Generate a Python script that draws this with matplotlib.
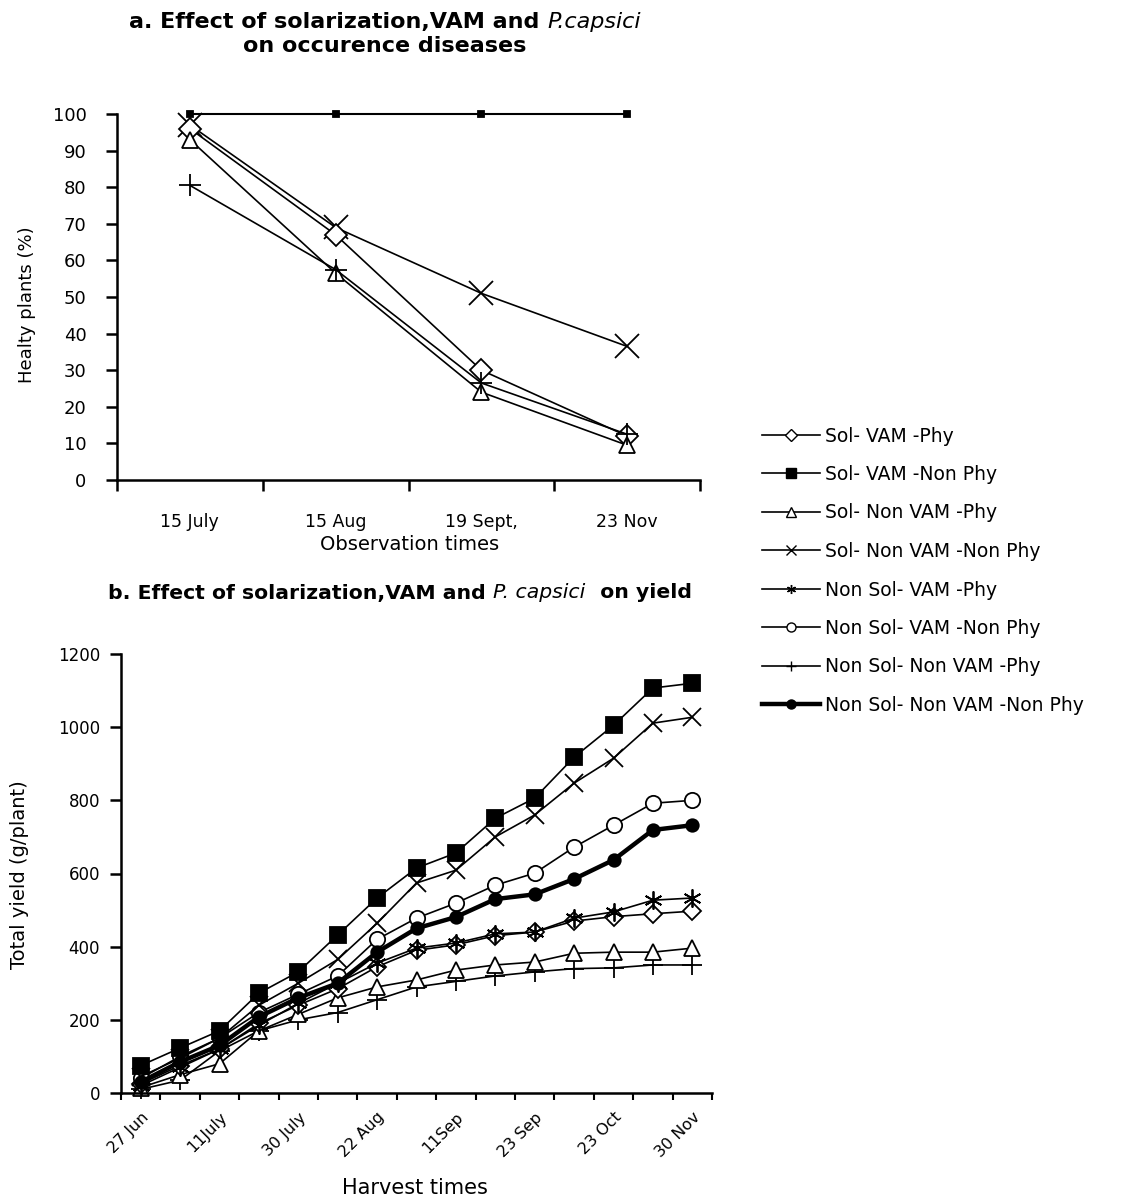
import matplotlib
matplotlib.use("Agg")
import matplotlib.pyplot as plt
from matplotlib.lines import Line2D

# ---------------- data ----------------
series_names = ["Sol- VAM -Phy", "Sol- VAM -Non Phy", "Sol- Non VAM -Phy",
                "Sol- Non VAM -Non Phy", "Non Sol- VAM -Phy", "Non Sol- VAM -Non Phy",
                "Non Sol- Non VAM -Phy", "Non Sol- Non VAM -Non Phy"]

# panel a: healthy plants (%)
obs_times = ["15 July", "15 Aug", "19 Sept,", "23 Nov"]
a_sol_vam_phy = [96, 67, 30, 12]
a_sol_vam_nonphy = [100, 100, 100, 100]
a_sol_nonvam_phy = [93, 56.5, 24, 9.5]
a_sol_nonvam_nonphy = [97, 69, 51, 36.5]
a_nonsol_nonvam_phy = [80.5, 57.5, 26.5, 12.5]

# panel b: total yield (g/plant), 15 harvests
harvest_labels = ["27 Jun", "", "11July", "", "30 July", "", "22 Aug", "",
                  "11Sep", "", "23 Sep", "", "23 Oct", "", "30 Nov"]
b_sol_vam_phy = [25, 75, 120, 190, 240, 285, 345, 390, 405, 430, 440, 470, 482, 490, 497]
b_sol_vam_nonphy = [75, 123, 170, 273, 331, 432, 533, 615, 656, 751, 806, 918, 1005, 1107, 1120]
b_sol_nonvam_phy = [15, 50, 80, 170, 215, 260, 290, 309, 336, 350, 358, 382, 385, 385, 396]
b_sol_nonvam_nonphy = [45, 95, 150, 240, 300, 365, 464, 574, 609, 700, 760, 847, 915, 1011, 1027]
b_nonsol_vam_phy = [20, 70, 120, 185, 245, 300, 355, 396, 410, 435, 440, 478, 495, 527, 533]
b_nonsol_vam_nonphy = [40, 100, 150, 220, 270, 320, 420, 478, 519, 568, 601, 672, 732, 792, 800]
b_nonsol_nonvam_phy = [10, 35, 115, 170, 200, 220, 255, 290, 305, 320, 331, 340, 342, 350, 350]
b_nonsol_nonvam_nonphy = [30, 85, 130, 208, 260, 300, 385, 450, 481, 530, 543, 585, 637, 719, 732]

# ---------------- styling ----------------
plt.rcParams["font.family"] = ["DejaVu Sans"]

W, H, DPI = 1148, 1203, 100
fig = plt.figure(figsize=(W / DPI, H / DPI), dpi=DPI)
fig.patch.set_facecolor("white")

def fx(px):
    return px / W

def fy(py):
    return 1 - py / H

styles = {
    "Sol- VAM -Phy": dict(marker="D", mfc="white", mec="black", lw=1.2),
    "Sol- VAM -Non Phy": dict(marker="s", mfc="black", mec="black", lw=1.2),
    "Sol- Non VAM -Phy": dict(marker="^", mfc="white", mec="black", lw=1.2),
    "Sol- Non VAM -Non Phy": dict(marker="x", mfc="black", mec="black", lw=1.2),
    "Non Sol- VAM -Phy": dict(marker=(6, 2, 0), mfc="black", mec="black", lw=1.2),
    "Non Sol- VAM -Non Phy": dict(marker="o", mfc="white", mec="black", lw=1.2),
    "Non Sol- Non VAM -Phy": dict(marker="+", mfc="black", mec="black", lw=1.2),
    "Non Sol- Non VAM -Non Phy": dict(marker="o", mfc="black", mec="black", lw=3.2),
}

def style_axes(ax, ylab_size, pad):
    for s in ["top", "right"]:
        ax.spines[s].set_visible(False)
    for s in ["left", "bottom"]:
        ax.spines[s].set_linewidth(1.8)
        ax.spines[s].set_color("black")
    ax.tick_params(axis="y", direction="out", length=8, width=1.8,
                   labelsize=ylab_size, pad=pad)

# ---------------- panel a ----------------
axa = fig.add_axes([fx(117), fy(480), fx(700) - fx(117), fy(114) - fy(480)])
style_axes(axa, 13, 14)
xa = list(range(len(obs_times)))
a_data = [
    ("Sol- Non VAM -Non Phy", a_sol_nonvam_nonphy, 17),
    ("Sol- VAM -Phy", a_sol_vam_phy, 11),
    ("Sol- Non VAM -Phy", a_sol_nonvam_phy, 12),
    ("Non Sol- Non VAM -Phy", a_nonsol_nonvam_phy, 16),
    ("Sol- VAM -Non Phy", a_sol_vam_nonphy, 5),
]
for name, vals, ms in a_data:
    st = dict(styles[name])
    st["lw"] = 1.5 if name == "Sol- VAM -Non Phy" else 1.2
    axa.plot(xa, vals, color="black", ms=ms, mew=1.3, clip_on=False, **st)
axa.set_xlim(-0.5, len(obs_times) - 0.5)
axa.set_ylim(0, 100)
axa.set_yticks(range(0, 101, 10))
axa.set_xticks([i - 0.5 for i in range(len(obs_times) + 1)])
axa.set_xticklabels([])
axa.set_xticks(xa, minor=True)
axa.set_xticklabels(obs_times, minor=True, fontsize=12.5)
axa.tick_params(axis="x", which="major", direction="out", length=8, width=1.8)
axa.tick_params(axis="x", which="minor", length=0, pad=24)
fig.text(fx(410), fy(545), "Observation times", ha="center", va="center", fontsize=14)
fig.text(fx(27), fy(305), "Healty plants (%)", ha="center", va="center", rotation=90, fontsize=13)

# ---------------- panel b ----------------
axb = fig.add_axes([fx(121), fy(1093), fx(712) - fx(121), fy(654) - fy(1093)])
style_axes(axb, 12, 7)
xb = list(range(len(harvest_labels)))
b_data = [
    ("Non Sol- Non VAM -Phy", b_nonsol_nonvam_phy, 15),
    ("Sol- Non VAM -Phy", b_sol_nonvam_phy, 11),
    ("Sol- VAM -Phy", b_sol_vam_phy, 9),
    ("Non Sol- VAM -Phy", b_nonsol_vam_phy, 13),
    ("Non Sol- VAM -Non Phy", b_nonsol_vam_nonphy, 11),
    ("Non Sol- Non VAM -Non Phy", b_nonsol_nonvam_nonphy, 9),
    ("Sol- Non VAM -Non Phy", b_sol_nonvam_nonphy, 13),
    ("Sol- VAM -Non Phy", b_sol_vam_nonphy, 12),
]
for name, vals, ms in b_data:
    axb.plot(xb, vals, color="black", ms=ms, mew=1.3, clip_on=False, **styles[name])
axb.set_xlim(-0.5, len(harvest_labels) - 0.5)
axb.set_ylim(0, 1200)
axb.set_yticks(range(0, 1201, 200))
axb.set_xticks([i - 0.5 for i in range(len(harvest_labels) + 1)])
axb.set_xticklabels([])
axb.set_xticks(xb, minor=True)
axb.set_xticklabels(harvest_labels, minor=True, fontsize=11.5, rotation=45,
                    ha="right", rotation_mode="anchor")
axb.tick_params(axis="x", which="major", direction="out", length=5, width=1.5)
axb.tick_params(axis="x", which="minor", length=0, pad=12)
fig.text(fx(415), fy(1188), "Harvest times", ha="center", va="center", fontsize=15)
fig.text(fx(20), fy(875), "Total yield (g/plant)", ha="center", va="center", rotation=90, fontsize=14)

# ---------------- legend ----------------
handles = []
for name in series_names:
    st = dict(styles[name])
    lw = st.pop("lw")
    handles.append(Line2D([0], [0], color="black", lw=lw, ms=6.5, mew=1.0, **st))
fig.legend(handles, series_names, loc="upper left", bbox_to_anchor=(fx(754), fy(419)),
           frameon=False, fontsize=13.5, handlelength=3.1, labelspacing=1.04,
           handletextpad=0.3, borderaxespad=0)

# ---------------- titles with italic species name ----------------
renderer = fig.canvas.get_renderer()

def mixed_line(parts, xc, y, size):
    texts = []
    for s, italic in parts:
        t = fig.text(0, fy(y), s, fontsize=size, va="center", ha="left",
                     fontweight="normal" if italic else "bold",
                     fontstyle="italic" if italic else "normal")
        texts.append(t)
    widths = [t.get_window_extent(renderer).width for t in texts]
    x = xc - sum(widths) / 2
    for t, w in zip(texts, widths):
        t.set_x(fx(x))
        x += w

mixed_line([("a. Effect of solarization,VAM and ", False), ("P.capsici", True)], 385, 22, 16)
mixed_line([("on occurence diseases", False)], 385, 46, 16)
mixed_line([("b. Effect of solarization,VAM and ", False), ("P. capsici", True),
            ("  on yield", False)], 400, 593, 14.7)

fig.savefig("out.png", dpi=DPI, facecolor="white")
